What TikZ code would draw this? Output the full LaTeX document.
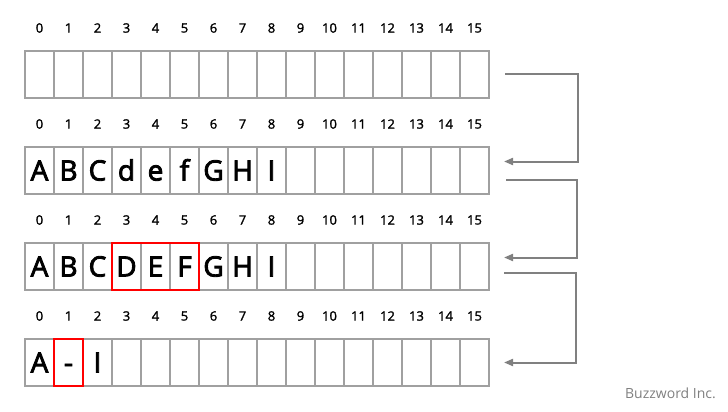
\documentclass[tikz,border=0pt]{standalone}
\usepackage{fontspec}
\setmainfont{Open Sans}
\newfontfamily\cellfont[FakeBold=3]{Open Sans}
\newfontfamily\idxfont[FakeBold=1.5]{Open Sans}
\usetikzlibrary{arrows.meta,positioning}
\definecolor{cellgray}{RGB}{160,160,160}
\definecolor{arrowgray}{RGB}{128,128,128}
\definecolor{markred}{RGB}{255,0,0}

\begin{document}
\begin{tikzpicture}[x=1pt, y=-1pt,
    cell/.style={draw=cellgray, line width=1.5pt, minimum width=29pt, minimum height=47pt, inner sep=0pt, outer sep=0pt},
    letter/.style={inner sep=0pt, text height=20pt, text depth=0pt, font=\cellfont\fontsize{28}{28}\selectfont},
    idx/.style={inner sep=0pt, font=\idxfont\fontsize{13}{13}\selectfont},
    redbox/.style={draw=markred, line width=2pt},
    flow/.style={draw=arrowgray, line width=2pt, -{Triangle[length=9pt,width=7pt]}},
]
    \useasboundingbox (0,0) rectangle (728,412);

    % Index numbers and cells - four rows of 16
    \foreach \r in {0,...,3} {
        \foreach \i in {0,...,15} {
            \node[idx] (n\r-\i) at (39.5+29*\i, 28+96*\r) {\i};
            \node[cell] (c\r-\i) at (39.5+29*\i, 74.5+96*\r) {};
        }
    }

    % Contents of each row
    \foreach \ch [count=\i from 0] in {A,B,C,d,e,f,G,H,I}
        \node[letter] (l1-\i) at (c1-\i) {\ch};
    \foreach \ch [count=\i from 0] in {A,B,C,D,E,F,G,H,I}
        \node[letter] (l2-\i) at (c2-\i) {\ch};
    \foreach \ch [count=\i from 0] in {A,-,I}
        \node[letter] (l3-\i) at (c3-\i) {\ch};

    % Changed cells
    \draw[redbox] (c2-3.north west) rectangle (c2-5.south east);
    \draw[redbox] (c3-1.north west) rectangle (c3-1.south east);

    % Arrows from one row to the next
    \draw[flow] ([xshift=16pt]c0-15.east) -- ++(73,0)
        |- ([xshift=15pt, yshift=9pt]c1-15.east);
    \draw[flow] ([xshift=17pt, yshift=-9pt]c1-15.east) -- ++(71,0)
        |- ([xshift=15pt, yshift=9pt]c2-15.east);
    \draw[flow] ([xshift=15pt, yshift=-6pt]c2-15.east) -- ++(72,0)
        |- ([xshift=15pt]c3-15.east);

    \node[anchor=east, inner sep=0pt, text=arrowgray, font=\fontsize{14}{14}\selectfont]
        (brand) at (716,393) {Buzzword Inc.};
\end{tikzpicture}
\end{document}
